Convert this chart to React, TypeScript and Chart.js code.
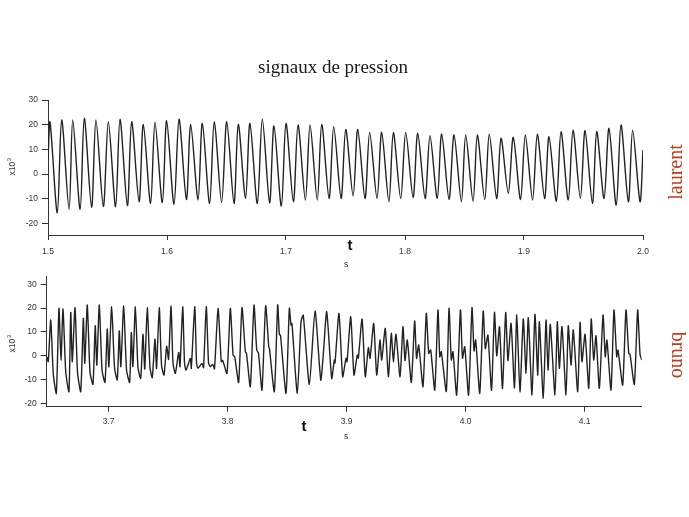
import React, { useEffect, useRef } from "react";
import { Chart, registerables } from "chart.js";

Chart.register(...registerables);

// ---------- texts ----------
const TITLE = "signaux de pression";
const TOP_NAME = "laurent";
const BOTTOM_NAME = "bruno";
const X_UNIT = "s";
const Y_UNIT = "x10";
const Y_EXP = "3";
const HAND_MARK = "t";

// ---------- ticks ----------
const yTicks = [-20, -10, 0, 10, 20, 30];
const topXTicks = [1.5, 1.6, 1.7, 1.8, 1.9, 2.0];
const bottomXTicks = [3.7, 3.8, 3.9, 4.0, 4.1];

// ---------- top panel (laurent): peaks and troughs of each cycle ----------
const topStart = [1.5, 5.7];
const topEnd = [2.0, 9.7];
const topPeakTime = [
  1.5017, 1.5115, 1.5208, 1.5305, 1.5403, 1.5507, 1.5605, 1.5703, 1.5801, 1.5899,
  1.5997, 1.6101, 1.6199, 1.6297, 1.6397, 1.6502, 1.6599, 1.6697, 1.6801, 1.6899,
  1.7000, 1.7101, 1.7202, 1.7300, 1.7401, 1.7502, 1.7603, 1.7703, 1.7804, 1.7902,
  1.8006, 1.8107, 1.8210, 1.8308, 1.8412, 1.8510, 1.8608, 1.8708, 1.8807, 1.8910,
  1.9011, 1.9112, 1.9210, 1.9311, 1.9412, 1.9513, 1.9611, 1.9714, 1.9815, 1.9913,
];
const topPeakValue = [
  21.0, 21.9, 21.9, 22.6, 21.9, 21.2, 22.2, 21.2, 20.1, 21.0,
  21.6, 22.2, 20.1, 20.5, 21.2, 21.2, 20.1, 20.5, 22.3, 19.5,
  20.5, 19.9, 19.9, 20.1, 19.2, 18.1, 18.1, 16.9, 16.9, 16.8,
  16.9, 16.5, 15.5, 16.2, 15.8, 15.8, 15.8, 16.1, 14.5, 14.9,
  15.8, 16.1, 15.1, 17.2, 17.8, 17.6, 17.2, 18.5, 19.9, 17.8,
];
const topTroughTime = [
  1.5078, 1.5177, 1.5270, 1.5366, 1.5465, 1.5568, 1.5667, 1.5765, 1.5862, 1.5961,
  1.6059, 1.6163, 1.6261, 1.6358, 1.6459, 1.6563, 1.6660, 1.6759, 1.6862, 1.6961,
  1.7062, 1.7163, 1.7263, 1.7362, 1.7463, 1.7564, 1.7664, 1.7765, 1.7865, 1.7964,
  1.8068, 1.8169, 1.8271, 1.8370, 1.8474, 1.8572, 1.8670, 1.8770, 1.8868, 1.8971,
  1.9072, 1.9173, 1.9272, 1.9372, 1.9474, 1.9575, 1.9673, 1.9775, 1.9877, 1.9975,
];
const topTroughValue = [
  -15.7, -14.3, -14.3, -13.5, -13.2, -13.2, -12.8, -11.2, -11.9, -11.6,
  -12.3, -10.3, -10.5, -11.9, -11.5, -11.9, -9.9, -11.9, -11.6, -13.0,
  -11.2, -10.5, -10.5, -9.9, -9.9, -8.9, -9.9, -9.9, -11.2, -9.9,
  -9.5, -9.9, -9.9, -10.3, -11.2, -11.0, -10.3, -9.9, -7.8, -10.3,
  -10.5, -9.9, -11.0, -10.5, -9.9, -11.9, -9.9, -12.6, -11.2, -11.2,
];

// ---------- bottom panel (bruno): turning points [time s, value x10^3] ----------
const bottomSamples: [number, number][] = [
  [3.648, -0.4], [3.6493, -2.5], [3.6514, 15.0], [3.6535, -7.5], [3.6561, -15.8],
  [3.6583, 19.9], [3.66, -1.8], [3.6617, 19.6], [3.664, -6.7], [3.6667, -15.1],
  [3.6682, 18.2], [3.6695, -2.5], [3.6718, 20.2], [3.6739, -7.0], [3.6766, -15.1],
  [3.6788, 15.7], [3.68, -3.2], [3.6821, 21.3], [3.6844, -7.0], [3.6869, -12.0],
  [3.6888, 12.6], [3.6901, -3.9], [3.6922, 21.3], [3.6945, -6.0], [3.697, -11.2],
  [3.6989, 11.2], [3.7002, -4.6], [3.7026, 20.6], [3.705, -5.0], [3.7073, -10.2],
  [3.709, 10.4], [3.7103, -4.6], [3.7127, 20.9], [3.7151, -6.0], [3.7177, -11.2],
  [3.7191, 9.8], [3.7204, -4.6], [3.7225, 20.6], [3.7247, -5.0], [3.727, -9.5],
  [3.7289, 9.0], [3.7304, -5.6], [3.7325, 20.2], [3.7348, -5.0], [3.7367, -9.2],
  [3.739, 7.0], [3.7403, -5.3], [3.7426, 20.2], [3.7445, -4.0], [3.7466, -8.1],
  [3.7488, 4.0], [3.7504, -1.5], [3.7525, 20.9], [3.7541, -3.0], [3.7561, -7.4],
  [3.7589, 1.4], [3.76, -4.6], [3.7623, 20.6], [3.7638, -3.0], [3.7651, -6.0],
  [3.7687, -1.1], [3.7695, -5.3], [3.7724, 20.6], [3.7739, -3.0], [3.7751, -5.3],
  [3.7785, -3.2], [3.7798, -5.0], [3.7821, 20.6], [3.784, -3.0], [3.7855, -4.6],
  [3.7875, -3.6], [3.789, -5.5], [3.792, 19.9], [3.7947, -2.5], [3.7959, -2.0],
  [3.7995, -7.4], [3.8023, 19.9], [3.8046, 0.3], [3.806, -0.5], [3.8093, -11.2],
  [3.8121, 20.2], [3.8149, 1.7], [3.8159, 1.0], [3.8191, -13.0], [3.8222, 21.3],
  [3.8245, 2.4], [3.826, 1.0], [3.8289, -14.4], [3.832, 21.0], [3.8346, 3.8],
  [3.8352, 3.0], [3.8393, -15.1], [3.8421, 21.3], [3.8435, 9.0], [3.8445, 8.5],
  [3.8491, -15.8], [3.8519, 19.9], [3.8533, 12.9], [3.8541, 13.5], [3.8586, -15.8],
  [3.8617, 14.3], [3.8636, 17.0], [3.8687, -12.0], [3.8735, 18.8], [3.8783, -10.2],
  [3.8804, 0.3], [3.8833, 18.5], [3.8875, -9.5], [3.8897, -1.8], [3.8903, -3.0],
  [3.8936, 17.8], [3.8967, -8.8], [3.8995, -1.1], [3.9004, -2.5], [3.9035, 16.4],
  [3.9062, -8.1], [3.909, 0.3], [3.9099, -1.0], [3.913, 15.4], [3.9157, -8.8],
  [3.9183, 3.4], [3.9197, -1.1], [3.9228, 13.6], [3.9253, -8.1], [3.9281, 6.6],
  [3.9295, -1.8], [3.9325, 11.5], [3.9351, -8.8], [3.9376, 9.4], [3.9393, -2.5],
  [3.9415, 9.0], [3.9449, -8.8], [3.9474, 12.2], [3.9491, -2.0], [3.951, 6.6],
  [3.9544, -11.2], [3.9572, 14.6], [3.9588, -1.1], [3.9606, 4.5], [3.9642, -13.0],
  [3.967, 17.8], [3.969, 1.0], [3.9707, 2.4], [3.9741, -14.4], [3.9768, 19.2],
  [3.9783, -0.5], [3.9796, 1.7], [3.9838, -15.0], [3.9861, 19.9], [3.988, -1.8],
  [3.9894, 1.7], [3.9925, -16.5], [3.9957, 19.2], [3.9974, -1.0], [3.9993, 3.8],
  [4.0025, -16.5], [4.0054, 20.2], [4.0071, 2.0], [4.0085, 6.6], [4.0119, -15.8],
  [4.0148, 18.8], [4.0166, 3.0], [4.0188, 8.7], [4.0218, -14.5], [4.0243, 18.2],
  [4.0262, 0.0], [4.0285, 12.2], [4.031, -13.7], [4.0337, 18.2], [4.0356, -2.0],
  [4.0382, 13.6], [4.0411, -13.5], [4.043, 17.1], [4.0457, -15.1], [4.0485, 15.4],
  [4.0508, -7.4], [4.0527, 16.0], [4.0558, -16.5], [4.0583, 17.4], [4.0606, -8.1],
  [4.062, 14.3], [4.0653, -17.9], [4.0676, 15.0], [4.0693, -6.0], [4.0712, 13.2],
  [4.0751, -16.5], [4.0771, 14.3], [4.0788, -5.3], [4.081, 12.2], [4.0844, -16.5],
  [4.0863, 12.6], [4.0886, -3.9], [4.0905, 10.8], [4.0942, -15.1], [4.0962, 14.0],
  [4.0978, -2.5], [4.1004, 9.0], [4.1035, -13.7], [4.1056, 15.4], [4.1077, -1.8],
  [4.1096, 8.4], [4.1124, -13.7], [4.1155, 17.1], [4.1174, -0.4], [4.1188, 6.6],
  [4.1222, -14.4], [4.1247, 19.2], [4.127, -0.4], [4.1281, 2.4], [4.132, -12.3],
  [4.1348, 19.2], [4.1371, 1.0], [4.1382, 0.6], [4.1418, -12.0], [4.1446, 19.2],
  [4.1466, 0.6], [4.148, -1.8],
];

// ---------- styles ----------
const SANS = '"Liberation Sans", Arial, sans-serif';
const SERIF = '"Liberation Serif", "DejaVu Serif", serif';
const INK = "#222222";
const AXIS = "#333333";
const NAME_COLOR = "#b5401e";
const W = 689;

function topPoints() {
  const pts: { x: number; y: number }[] = [{ x: topStart[0], y: topStart[1] }];
  for (let i = 0; i < topPeakTime.length; i++) {
    pts.push({ x: topPeakTime[i], y: topPeakValue[i] });
    pts.push({ x: topTroughTime[i], y: topTroughValue[i] });
  }
  pts.push({ x: topEnd[0], y: topEnd[1] });
  return pts;
}

function bottomPoints() {
  return bottomSamples.map(([x, y]) => ({ x, y }));
}

function drawYUnit(ctx: CanvasRenderingContext2D, x: number, y: number) {
  ctx.save();
  ctx.translate(x, y);
  ctx.rotate(-Math.PI / 2);
  ctx.fillStyle = AXIS;
  ctx.textBaseline = "middle";
  ctx.textAlign = "left";
  ctx.font = `8.5px ${SANS}`;
  const w = ctx.measureText(Y_UNIT).width;
  ctx.font = `6px ${SANS}`;
  const w3 = ctx.measureText(Y_EXP).width;
  const start = -(w + w3) / 2;
  ctx.font = `8.5px ${SANS}`;
  ctx.fillText(Y_UNIT, start, 0);
  ctx.font = `6px ${SANS}`;
  ctx.fillText(Y_EXP, start + w + 0.5, -4);
  ctx.restore();
}

function drawRotated(
  ctx: CanvasRenderingContext2D,
  text: string,
  x: number,
  y: number,
  angle: number,
  font: string,
  color: string
) {
  ctx.save();
  ctx.translate(x, y);
  ctx.rotate(angle);
  ctx.font = font;
  ctx.fillStyle = color;
  ctx.textAlign = "center";
  ctx.textBaseline = "middle";
  ctx.fillText(text, 0, 0);
  ctx.restore();
}

function drawPlain(ctx: CanvasRenderingContext2D, text: string, x: number, y: number, font: string, color: string) {
  ctx.save();
  ctx.font = font;
  ctx.fillStyle = color;
  ctx.textAlign = "center";
  ctx.textBaseline = "middle";
  ctx.fillText(text, x, y);
  ctx.restore();
}

type PanelOpts = {
  points: { x: number; y: number }[];
  xMin: number;
  xMax: number;
  yMin: number;
  yMax: number;
  xTicks: number[];
  padTop: number;
  padRight: number;
  yAxisWidth: number;
  xAxisHeight: number;
  xLabelPad: number;
  tension: number;
  decorate: (ctx: CanvasRenderingContext2D) => void;
};

function buildConfig(o: PanelOpts): any {
  const tickFont = { family: SANS, size: 8.5 };
  return {
    type: "line",
    data: {
      datasets: [
        {
          data: o.points,
          borderColor: INK,
          borderWidth: 1.4,
          pointRadius: 0,
          tension: o.tension,
          fill: false,
        },
      ],
    },
    options: {
      responsive: false,
      animation: false,
      events: [],
      layout: { padding: { top: o.padTop, right: o.padRight, left: 0, bottom: 0 } },
      plugins: {
        legend: { display: false },
        tooltip: { enabled: false },
        title: { display: false },
      },
      scales: {
        x: {
          type: "linear",
          min: o.xMin,
          max: o.xMax,
          afterBuildTicks: (s: any) => {
            s.ticks = o.xTicks.map((v) => ({ value: v }));
          },
          afterFit: (s: any) => {
            s.height = o.xAxisHeight;
            s.paddingLeft = 0;
            s.paddingRight = 0;
          },
          ticks: {
            font: tickFont,
            color: AXIS,
            padding: o.xLabelPad,
            maxRotation: 0,
            autoSkip: false,
            callback: (v: any) => Number(v).toFixed(1),
          },
          grid: { drawOnChartArea: false, drawTicks: true, tickLength: 5, color: AXIS, lineWidth: 1 },
          border: { display: true, color: AXIS, width: 1 },
        },
        y: {
          type: "linear",
          min: o.yMin,
          max: o.yMax,
          afterBuildTicks: (s: any) => {
            s.ticks = yTicks.map((v) => ({ value: v }));
          },
          afterFit: (s: any) => {
            s.width = o.yAxisWidth;
            s.paddingTop = 0;
            s.paddingBottom = 0;
          },
          ticks: {
            font: tickFont,
            color: AXIS,
            padding: 4,
            autoSkip: false,
            callback: (v: any) => String(v),
          },
          grid: { drawOnChartArea: false, drawTicks: true, tickLength: 6, color: AXIS, lineWidth: 1 },
          border: { display: true, color: AXIS, width: 1 },
        },
      },
    },
    plugins: [
      {
        id: "decor",
        afterDraw: (chart: any) => {
          const ctx = chart.ctx as CanvasRenderingContext2D;
          ctx.save();
          o.decorate(ctx);
          ctx.restore();
        },
      },
    ],
  };
}

function Panel({ top, height, opts }: { top: number; height: number; opts: PanelOpts }) {
  const ref = useRef<HTMLCanvasElement>(null);
  useEffect(() => {
    if (!ref.current) return;
    const chart = new Chart(ref.current, buildConfig(opts));
    return () => chart.destroy();
  }, []);
  return (
    <canvas
      ref={ref}
      width={W}
      height={height}
      style={{ position: "absolute", left: 0, top, width: W, height, display: "block" }}
    />
  );
}

const TOP_H = 275;
const BOTTOM_TOP = 275;
const BOTTOM_H = 242;

const topOpts: PanelOpts = {
  points: topPoints(),
  xMin: 1.5,
  xMax: 2.0,
  yMin: -24.7,
  yMax: 30,
  xTicks: topXTicks,
  padTop: 100,
  padRight: 46,
  yAxisWidth: 48,
  xAxisHeight: 40,
  xLabelPad: 6.5,
  tension: 0.3,
  decorate: (ctx) => {
    drawPlain(ctx, TITLE, 333, 68, `19px ${SERIF}`, "#1a1a1a");
    drawRotated(ctx, TOP_NAME, 677, 172, -Math.PI / 2, `20px ${SERIF}`, NAME_COLOR);
    drawYUnit(ctx, 13, 167);
    drawPlain(ctx, X_UNIT, 346, 265, `8.5px ${SANS}`, AXIS);
    drawPlain(ctx, HAND_MARK, 350, 246, `bold 15px ${SANS}`, "#111");
  },
};

const bottomOpts: PanelOpts = {
  points: bottomPoints(),
  xMin: 3.648,
  xMax: 4.148,
  yMin: -21.4,
  yMax: 33.2,
  xTicks: bottomXTicks,
  padTop: 1.7,
  padRight: 47.3,
  yAxisWidth: 46.7,
  xAxisHeight: 110.3,
  xLabelPad: 5,
  tension: 0.2,
  decorate: (ctx) => {
    drawRotated(ctx, BOTTOM_NAME, 677, 80, Math.PI / 2, `20px ${SERIF}`, NAME_COLOR);
    drawYUnit(ctx, 13, 69);
    drawPlain(ctx, X_UNIT, 346, 162, `8.5px ${SANS}`, AXIS);
    drawPlain(ctx, HAND_MARK, 304, 152, `bold 15px ${SANS}`, "#111");
  },
};

export default function App() {
  return (
    <div
      style={{
        position: "absolute",
        left: 0,
        top: 0,
        width: W,
        height: 517,
        background: "#ffffff",
        overflow: "hidden",
      }}
    >
      <Panel top={0} height={TOP_H} opts={topOpts} />
      <Panel top={BOTTOM_TOP} height={BOTTOM_H} opts={bottomOpts} />
    </div>
  );
}
